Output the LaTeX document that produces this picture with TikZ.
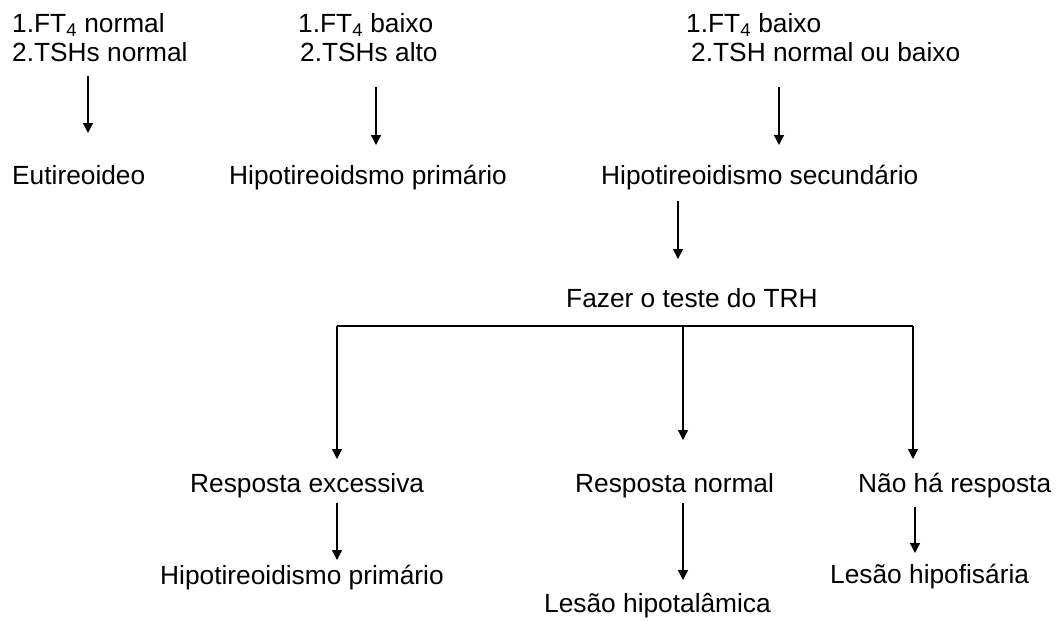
\documentclass[tikz,border=0pt]{standalone}
\usepackage{fontspec}
\setmainfont{Liberation Sans}
\usetikzlibrary{arrows.meta}
\tikzset{
  lbl/.style={anchor=base west, inner sep=0pt, font=\fontsize{26.3}{29}\selectfont},
  arr/.style={line width=1.3pt, -{Triangle[length=10pt,width=10pt]}},
  ln/.style={line width=1.3pt}
}
\begin{document}
\begin{tikzpicture}[x=1pt,y=-1pt]
\useasboundingbox (0,0) rectangle (1058,621);
% row 1
\node[lbl] (b1a) at (12,32) {1.FT\textsubscript{4} normal};
\node[lbl] (b1b) at (12,61) {2.TSHs normal};
\node[lbl] (b2a) at (298,32) {1.FT\textsubscript{4} baixo};
\node[lbl] (b2b) at (300,61) {2.TSHs alto};
\node[lbl] (b3a) at (686,32) {1.FT\textsubscript{4} baixo};
\node[lbl] (b3b) at (691,61) {2.TSH normal ou baixo};
% row 2
\node[lbl] (eut) at (12,184) {Eutireoideo};
\node[lbl] (hp1) at (229,184) {Hipotireoidsmo primário};
\node[lbl] (hs) at (601,184) {Hipotireoidismo secundário};
% row 3
\node[lbl] (trh) at (566,307) {Fazer o teste do TRH};
% row 4
\node[lbl] (rex) at (190,492) {Resposta excessiva};
\node[lbl] (rno) at (575,492) {Resposta normal};
\node[lbl] (nre) at (858,492) {Não há resposta};
% row 5
\node[lbl] (hp2) at (160,584) {Hipotireoidismo primário};
\node[lbl] (lhipo) at (544,612) {Lesão hipotalâmica};
\node[lbl] (lhipof) at (830,583) {Lesão hipofisária};
% arrows
\coordinate (a1s) at (88,76);  \coordinate (a1e) at (88,133);
\coordinate (a2s) at (376,87); \coordinate (a2e) at (376,145);
\coordinate (a3s) at (779,87); \coordinate (a3e) at (779,145);
\coordinate (a4s) at (678,201); \coordinate (a4e) at (678,259);
\draw[arr] (a1s) -- (a1e);
\draw[arr] (a2s) -- (a2e);
\draw[arr] (a3s) -- (a3e);
\draw[arr] (a4s) -- (a4e);
% bracket
\coordinate (jl) at (337,326);
\coordinate (jm) at (683,326);
\coordinate (jr) at (913,326);
\coordinate (tl) at (337,459);
\coordinate (tm) at (683,440);
\coordinate (tr) at (913,459);
\draw[ln] (jl) -- (jr);
\draw[arr] (jl) -- (tl);
\draw[arr] (jm) -- (tm);
\draw[arr] (jr) -- (tr);
% lower arrows
\coordinate (a5s) at (337,503); \coordinate (a5e) at (337,560);
\coordinate (a6s) at (683,503); \coordinate (a6e) at (683,580);
\coordinate (a7s) at (915,507); \coordinate (a7e) at (915,553);
\draw[arr] (a5s) -- (a5e);
\draw[arr] (a6s) -- (a6e);
\draw[arr] (a7s) -- (a7e);
\end{tikzpicture}
\end{document}
